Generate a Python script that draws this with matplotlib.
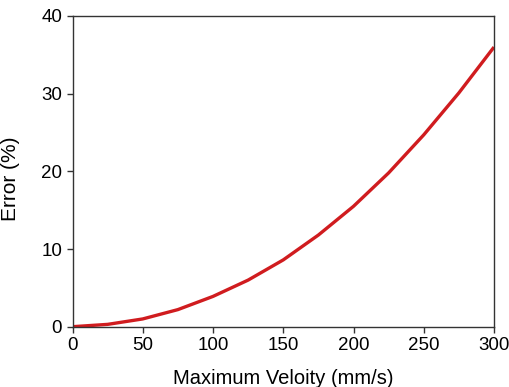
import matplotlib
matplotlib.use('Agg')
import matplotlib.pyplot as plt

## Avläsningar från bilden
velocity = [0, 25, 50, 75, 100, 125, 150, 175, 200, 225, 250, 275, 300]
error = [0.0, 0.3, 1.0, 2.2, 3.9, 6.0, 8.6, 11.8, 15.5, 19.8, 24.7, 30.1, 36.0]
x_ticks = [0, 50, 100, 150, 200, 250, 300]
y_ticks = [0, 10, 20, 30, 40]

plt.rcParams['font.family'] = ['Liberation Sans', 'DejaVu Sans']

fig = plt.figure(figsize=(5.09, 3.87), dpi=100)
ax = fig.add_axes([72.5 / 509, 1 - 326.7 / 387, (494 - 72.5) / 509, (326.7 - 16) / 387])

ax.plot(velocity, error, color='#d01c1f', linewidth=2.4, solid_capstyle='butt')

ax.set_xlim(0, 300)
ax.set_ylim(0, 40)
ax.set_xticks(x_ticks)
ax.set_yticks(y_ticks)
ax.tick_params(direction='out', length=4, width=1, labelsize=13.5, color='#333333')
for s in ax.spines.values():
    s.set_linewidth(1.0)
    s.set_color('#333333')

## Placerar axeltitlarna som i originalet
ax.set_xlabel('Maximum Veloity (mm/s)', fontsize=14.5)
ax.set_ylabel('Error (%)', fontsize=15)
ax.xaxis.set_label_coords(0.5, -(378 - 326.7) / (326.7 - 16), transform=ax.transAxes)
ax.yaxis.set_label_coords(-(72.5 - 11) / (494 - 72.5), (326.7 - 179) / (326.7 - 16), transform=ax.transAxes)
ax.xaxis.label.set_va('center')
ax.yaxis.label.set_va('center')

fig.savefig('out.png', dpi=100)
